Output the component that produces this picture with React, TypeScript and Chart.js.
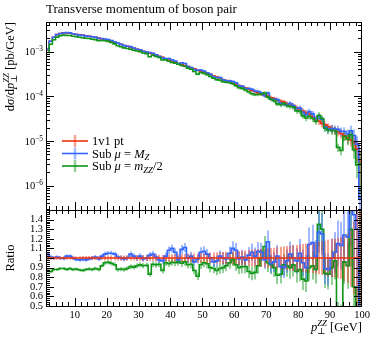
import React, { useEffect, useRef } from "react";
import { Chart, registerables } from "chart.js";
Chart.register(...registerables);

// ---------- data ----------
const X_MIN = 1;
const X_MAX = 100;
const BIN_W = 1;

// dsigma/dpT [pb/GeV] for "1v1 pt", 1 GeV bins from 1 to 100
const nominal = [
  1.10e-3, 1.71e-3, 2.10e-3, 2.41e-3, 2.55e-3, 2.64e-3, 2.63e-3, 2.58e-3, 2.52e-3, 2.46e-3,
  2.40e-3, 2.35e-3, 2.28e-3, 2.23e-3, 2.16e-3, 2.09e-3, 2.01e-3, 1.93e-3, 1.85e-3, 1.78e-3,
  1.70e-3, 1.61e-3, 1.54e-3, 1.46e-3, 1.38e-3, 1.32e-3, 1.25e-3, 1.19e-3, 1.13e-3, 1.08e-3,
  1.02e-3, 9.8e-4, 9.3e-4, 8.9e-4, 8.4e-4, 7.9e-4, 7.5e-4, 6.9e-4, 6.5e-4, 6.0e-4,
  5.8e-4, 5.45e-4, 5.2e-4, 4.9e-4, 4.62e-4, 4.35e-4, 4.15e-4, 3.87e-4, 3.68e-4, 3.45e-4,
  3.26e-4, 3.10e-4, 2.86e-4, 2.72e-4, 2.57e-4, 2.36e-4, 2.25e-4, 2.12e-4, 1.96e-4, 1.86e-4,
  1.74e-4, 1.66e-4, 1.53e-4, 1.46e-4, 1.36e-4, 1.29e-4, 1.20e-4, 1.14e-4, 1.06e-4, 1.01e-4,
  9.3e-5, 8.9e-5, 8.3e-5, 7.8e-5, 7.5e-5, 6.8e-5, 6.6e-5, 6.2e-5, 5.5e-5, 5.2e-5,
  4.7e-5, 4.3e-5, 4.0e-5, 3.5e-5, 3.1e-5, 2.8e-5, 2.45e-5, 2.3e-5, 2.1e-5, 1.9e-5,
  1.75e-5, 1.6e-5, 1.46e-5, 1.33e-5, 1.18e-5, 1.06e-5, 9.2e-6, 6.5e-6, 3.5e-6,
];

// ratio Sub mu = M_Z / 1v1 pt
const blueRatio = [
  1.04, 1.01, 1.0, 1.01, 1.0, 0.995, 1.02, 1.02, 1.0, 0.985,
  0.98, 0.985, 0.98, 0.99, 1.0, 1.01, 0.99, 1.02, 1.04, 1.05,
  1.05, 1.04, 1.01, 1.0, 0.99, 1.0, 1.04, 1.02, 1.0, 1.02,
  0.99, 1.0, 1.03, 1.04, 1.01, 0.98, 0.97, 1.02, 1.08, 1.10,
  1.06, 0.98, 1.09, 1.11, 1.0, 1.02, 0.96, 0.99, 1.06, 1.07,
  1.04, 1.0, 0.96, 0.97, 1.02, 1.0, 0.99, 1.05, 1.10, 1.08,
  0.99, 1.01, 0.98, 1.03, 1.06, 1.02, 1.07, 1.06, 0.98, 1.17,
  0.94, 0.96, 1.02, 0.91, 0.90, 0.97, 1.04, 1.0, 0.97, 1.05,
  0.95, 0.90, 1.14, 1.16, 1.02, 1.27, 1.25, 0.89, 0.88, 1.0,
  1.06, 1.15, 1.13, 1.24, 1.22, 1.6, 1.45, 1.3, 0.15,
];

// ratio Sub mu = m_ZZ/2 / 1v1 pt
const greenRatio = [
  0.87, 0.86, 0.88, 0.88, 0.89, 0.89, 0.88, 0.89, 0.88, 0.885,
  0.875, 0.87, 0.88, 0.885, 0.88, 0.89, 0.88, 0.92, 0.95, 0.955,
  0.945, 0.93, 0.88, 0.885, 0.88, 0.89, 0.91, 0.905, 0.92, 0.93,
  0.92, 0.925, 0.83, 0.935, 0.93, 0.935, 0.87, 0.95, 0.94, 0.955,
  0.95, 0.96, 0.945, 0.96, 0.93, 0.935, 0.87, 0.81, 0.93, 0.95,
  0.94, 0.9, 0.89, 0.87, 0.89, 0.9, 0.92, 0.95, 0.98, 0.93,
  0.9, 0.91, 0.91, 0.86, 0.84, 0.85, 0.92, 1.0, 1.12, 0.95,
  0.93, 0.9, 0.82, 0.83, 0.93, 0.92, 0.9, 0.93, 0.86, 0.88,
  0.78, 0.76, 0.9, 0.92, 0.88, 1.35, 1.3, 0.84, 0.83, 0.9,
  0.97, 0.45, 0.42, 0.96, 0.92, 1.3, 0.7, 0.45, 0.9,
];

// relative statistical uncertainty per bin
const relErr = [
  0.025, 0.02, 0.018, 0.018, 0.018, 0.018, 0.018, 0.018, 0.019, 0.019,
  0.019, 0.02, 0.02, 0.02, 0.021, 0.021, 0.022, 0.022, 0.023, 0.023,
  0.024, 0.024, 0.025, 0.025, 0.026, 0.026, 0.027, 0.027, 0.028, 0.029,
  0.03, 0.03, 0.031, 0.032, 0.033, 0.034, 0.035, 0.036, 0.037, 0.038,
  0.039, 0.04, 0.041, 0.042, 0.043, 0.044, 0.046, 0.047, 0.049, 0.05,
  0.052, 0.054, 0.056, 0.058, 0.06, 0.062, 0.064, 0.066, 0.068, 0.07,
  0.073, 0.076, 0.079, 0.082, 0.085, 0.088, 0.091, 0.094, 0.097, 0.1,
  0.104, 0.108, 0.112, 0.116, 0.12, 0.124, 0.128, 0.132, 0.136, 0.14,
  0.145, 0.15, 0.155, 0.16, 0.165, 0.17, 0.175, 0.18, 0.19, 0.2,
  0.2, 0.21, 0.22, 0.24, 0.26, 0.3, 0.38, 0.5, 0.8,
];

const xTickLabels = [10, 20, 30, 40, 50, 60, 70, 80, 90, 100];
const logTickExps = [-3, -4, -5, -6];
const ratioTickLabels = [0.5, 0.6, 0.7, 0.8, 0.9, 1, 1.1, 1.2, 1.3, 1.4];

// ---------- layout / style ----------
const W = 374, H = 337;
const PLOT_L = 46, PLOT_R = 362, TOP_T = 22, SPLIT = 210, BOT_B = 306;
const Y_MIN = 2.86e-7, Y_MAX = 4.62e-3, R_MIN = 0.5, R_MAX = 1.5;
const FONT = '"Liberation Serif", "DejaVu Serif", serif';

const COL = { red: "rgb(238,51,17)", blue: "rgb(51,102,255)", green: "rgb(16,150,24)" };
const ECOL = { red: "rgba(238,51,17,0.45)", blue: "rgba(51,102,255,0.45)", green: "rgba(16,150,24,0.45)" };

type Seg = { t: string; it?: boolean; sc?: number; dy?: number; keep?: boolean };

const segFont = (size: number, s: Seg) => `${s.it ? "italic " : ""}${size * (s.sc ?? 1)}px ${FONT}`;
function richWidth(ctx: CanvasRenderingContext2D, segs: Seg[], size: number) {
  let w = 0;
  for (const s of segs) {
    ctx.font = segFont(size, s);
    if (!s.keep) w += ctx.measureText(s.t).width;
  }
  return w;
}
function drawRich(ctx: CanvasRenderingContext2D, segs: Seg[], x: number, y: number, size: number) {
  ctx.textAlign = "left";
  ctx.textBaseline = "alphabetic";
  let cx = x;
  for (const s of segs) {
    ctx.font = segFont(size, s);
    ctx.fillText(s.t, cx, y + (s.dy ?? 0));
    if (!s.keep) cx += ctx.measureText(s.t).width;
  }
}

const edges = nominal.map((_, i) => X_MIN + i * BIN_W).concat([X_MAX]);
const stepPts = (vals: number[]) =>
  vals.map((v, i) => ({ x: edges[i], y: v })).concat([{ x: edges[vals.length], y: vals[vals.length - 1] }]);

const series = [
  {
    key: "red" as const,
    label: [{ t: "1v1 pt" }] as Seg[],
    vals: nominal,
    ratio: nominal.map((v) => v / v),
  },
  {
    key: "blue" as const,
    label: [{ t: "Sub " }, { t: "μ", it: true }, { t: " = " }, { t: "M", it: true }, { t: "Z", it: true, sc: 0.7, dy: 2.5 }] as Seg[],
    vals: nominal.map((v, i) => v * blueRatio[i]),
    ratio: blueRatio,
  },
  {
    key: "green" as const,
    label: [
      { t: "Sub " }, { t: "μ", it: true }, { t: " = " }, { t: "m", it: true },
      { t: "ZZ", it: true, sc: 0.7, dy: 2.5 }, { t: "/2" },
    ] as Seg[],
    vals: nominal.map((v, i) => v * greenRatio[i]),
    ratio: greenRatio,
  },
];

const errsOf = (vals: number[]) =>
  vals.map((v, i) => [edges[i] + BIN_W / 2, v * (1 - relErr[i]), v * (1 + relErr[i])]);

const errorBarPlugin = {
  id: "errbars",
  beforeDatasetsDraw(chart: any) {
    const { ctx, chartArea: a, scales } = chart;
    const xs = scales.x, ys = scales.y;
    ctx.save();
    ctx.beginPath();
    ctx.rect(a.left, a.top, a.right - a.left, a.bottom - a.top);
    ctx.clip();
    chart.data.datasets.slice().reverse().forEach((ds: any) => {
      ctx.strokeStyle = ds.errColor;
      ctx.lineWidth = 2;
      ds.errs.forEach(([c, lo, hi]: number[]) => {
        const px = Math.round(xs.getPixelForValue(c));
        ctx.beginPath();
        ctx.moveTo(px, ys.getPixelForValue(lo));
        ctx.lineTo(px, ys.getPixelForValue(hi));
        ctx.stroke();
      });
    });
    ctx.restore();
  },
};

function frameAndXTicks(ctx: CanvasRenderingContext2D, chart: any) {
  const a = chart.chartArea;
  const xs = chart.scales.x;
  ctx.strokeStyle = "#000";
  ctx.lineWidth = 1;
  ctx.beginPath();
  for (let v = X_MIN + 1; v < X_MAX; v += 1) {
    if (v % 2 !== 0) continue;
    const len = v % 10 === 0 ? 8 : 4;
    const px = Math.round(xs.getPixelForValue(v)) + 0.5;
    ctx.moveTo(px, a.top);
    ctx.lineTo(px, a.top + len);
    ctx.moveTo(px, a.bottom);
    ctx.lineTo(px, a.bottom - len);
  }
  ctx.stroke();
  ctx.strokeRect(a.left + 0.5, a.top + 0.5, a.right - a.left - 1, a.bottom - a.top);
}

function yTick(ctx: CanvasRenderingContext2D, a: any, py: number, len: number) {
  const y = Math.round(py) + 0.5;
  ctx.moveTo(a.left, y);
  ctx.lineTo(a.left + len, y);
  ctx.moveTo(a.right, y);
  ctx.lineTo(a.right - len, y);
}

const topDecor = {
  id: "topDecor",
  afterDraw(chart: any) {
    const { ctx, chartArea: a, scales } = chart;
    const ys = scales.y;
    ctx.save();
    frameAndXTicks(ctx, chart);
    // log ticks
    ctx.beginPath();
    for (let e = -7; e <= -2; e++) {
      for (let m = 1; m <= 9; m++) {
        const v = m * Math.pow(10, e);
        if (v < Y_MIN || v > Y_MAX) continue;
        yTick(ctx, a, ys.getPixelForValue(v), m === 1 ? 8 : 4);
      }
    }
    ctx.stroke();
    // log tick labels
    ctx.fillStyle = "#000";
    logTickExps.forEach((e) => {
      const py = ys.getPixelForValue(Math.pow(10, e));
      const segs: Seg[] = [{ t: "10" }, { t: "−" + Math.abs(e), sc: 0.7, dy: -4 }];
      const w = richWidth(ctx, segs, 10.5);
      drawRich(ctx, segs, a.left - 3 - w, py + 3.5, 10.5);
    });
    // title
    ctx.font = `13px ${FONT}`;
    ctx.textAlign = "left";
    ctx.textBaseline = "alphabetic";
    ctx.fillText("Transverse momentum of boson pair", a.left, 13);
    // y title (rotated)
    const ySegs: Seg[] = [
      { t: "d" }, { t: "σ", it: true }, { t: "/d" }, { t: "p", it: true },
      { t: "⊥", sc: 0.7, dy: 3, keep: true }, { t: "ZZ", it: true, sc: 0.7, dy: -5 }, { t: " [pb/GeV]" },
    ];
    ctx.save();
    ctx.translate(14, a.top);
    ctx.rotate(-Math.PI / 2);
    const yw = richWidth(ctx, ySegs, 12.5);
    drawRich(ctx, ySegs, -yw, 0, 12.5);
    ctx.restore();
    // legend
    const legY = [141, 153.5, 166];
    series.forEach((s, i) => {
      const y = legY[i];
      ctx.strokeStyle = ECOL[s.key];
      ctx.lineWidth = 2.5;
      ctx.beginPath();
      ctx.moveTo(75, y - 6);
      ctx.lineTo(75, y + 6);
      ctx.stroke();
      ctx.strokeStyle = COL[s.key];
      ctx.lineWidth = 1.6;
      ctx.beginPath();
      ctx.moveTo(62, y);
      ctx.lineTo(88, y);
      ctx.stroke();
      ctx.fillStyle = "#000";
      drawRich(ctx, s.label, 92, y + 4, 12.5);
    });
    ctx.restore();
  },
};

const bottomDecor = {
  id: "bottomDecor",
  afterDraw(chart: any) {
    const { ctx, chartArea: a, scales } = chart;
    const xs = scales.x, ys = scales.y;
    ctx.save();
    frameAndXTicks(ctx, chart);
    ctx.beginPath();
    for (let k = 0; k <= 50; k++) {
      const v = R_MIN + k * 0.02;
      if (v > R_MAX + 1e-9) continue;
      yTick(ctx, a, ys.getPixelForValue(v), k % 5 === 0 ? 8 : 4);
    }
    ctx.stroke();
    ctx.fillStyle = "#000";
    ctx.font = `10.5px ${FONT}`;
    ctx.textAlign = "right";
    ctx.textBaseline = "middle";
    ratioTickLabels.forEach((v) => {
      ctx.fillText(v === 1 ? "1" : v.toFixed(1), a.left - 3, ys.getPixelForValue(v));
    });
    ctx.textAlign = "center";
    ctx.textBaseline = "alphabetic";
    xTickLabels.forEach((v) => {
      ctx.fillText(String(v), xs.getPixelForValue(v), a.bottom + 12);
    });
    // x title
    const xSegs: Seg[] = [
      { t: "p", it: true }, { t: "⊥", sc: 0.7, dy: 3, keep: true },
      { t: "ZZ", it: true, sc: 0.7, dy: -5 }, { t: " [GeV]" },
    ];
    const xw = richWidth(ctx, xSegs, 12.5);
    drawRich(ctx, xSegs, a.right - xw, 331, 12.5);
    // Ratio label
    ctx.save();
    ctx.translate(14, (a.top + a.bottom) / 2);
    ctx.rotate(-Math.PI / 2);
    ctx.font = `12.5px ${FONT}`;
    ctx.textAlign = "center";
    ctx.textBaseline = "alphabetic";
    ctx.fillText("Ratio", 0, 0);
    ctx.restore();
    ctx.restore();
  },
};

function makeConfig(top: boolean): any {
  const order = top ? [2, 1, 0] : [0, 1, 2];
  const datasets = order.map((idx) => {
    const s = series[idx];
    const vals = top ? s.vals : s.ratio;
    return {
      data: stepPts(vals),
      borderColor: COL[s.key],
      borderWidth: 1.6,
      pointRadius: 0,
      stepped: true,
      fill: false,
      errColor: ECOL[s.key],
      errs: errsOf(vals),
    };
  });
  return {
    type: "line",
    data: { datasets },
    options: {
      animation: false,
      responsive: false,
      devicePixelRatio: 1,
      events: [],
      layout: {
        padding: top
          ? { left: PLOT_L, right: W - PLOT_R, top: TOP_T, bottom: H - SPLIT }
          : { left: PLOT_L, right: W - PLOT_R, top: SPLIT, bottom: H - BOT_B },
      },
      plugins: { legend: { display: false }, tooltip: { enabled: false }, title: { display: false } },
      scales: {
        x: { type: "linear", min: X_MIN, max: X_MAX, display: false },
        y: top
          ? { type: "logarithmic", min: Y_MIN, max: Y_MAX, display: false }
          : { type: "linear", min: R_MIN, max: R_MAX, display: false },
      },
    },
    plugins: [errorBarPlugin, top ? topDecor : bottomDecor],
  };
}

export default function App() {
  const topRef = useRef<HTMLCanvasElement>(null);
  const botRef = useRef<HTMLCanvasElement>(null);
  useEffect(() => {
    const c1 = new Chart(topRef.current as HTMLCanvasElement, makeConfig(true));
    const c2 = new Chart(botRef.current as HTMLCanvasElement, makeConfig(false));
    return () => {
      c1.destroy();
      c2.destroy();
    };
  }, []);
  return (
    <div style={{ position: "fixed", left: 0, top: 0, width: W, height: H, background: "#fff" }}>
      <canvas ref={topRef} width={W} height={H} style={{ position: "absolute", left: 0, top: 0 }} />
      <canvas ref={botRef} width={W} height={H} style={{ position: "absolute", left: 0, top: 0 }} />
    </div>
  );
}
